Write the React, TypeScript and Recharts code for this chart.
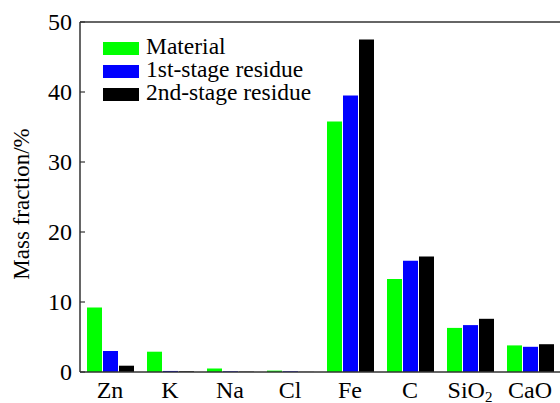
import React from "react";
import { BarChart, Bar, XAxis, YAxis, ReferenceLine, Legend } from "recharts";

const categories = ["Zn", "K", "Na", "Cl", "Fe", "C", "SiO2", "CaO"];
const material = [9.2, 2.9, 0.5, 0.2, 35.8, 13.3, 6.3, 3.8];
const firstStage = [3.0, 0.15, 0.1, 0.1, 39.5, 15.9, 6.7, 3.6];
const secondStage = [0.9, 0.1, 0.05, 0.02, 47.5, 16.5, 7.6, 3.97];
const yTicks = [0, 10, 20, 30, 40, 50];

const SERIES = [
  { key: "material", name: "Material", color: "#00FF00" },
  { key: "first", name: "1st-stage residue", color: "#0000FF" },
  { key: "second", name: "2nd-stage residue", color: "#000000" },
];

const data = categories.map((c, i) => ({
  name: c,
  material: material[i],
  first: firstStage[i],
  second: secondStage[i],
}));

const FONT = "'Liberation Serif', 'Times New Roman', serif";
const AXIS = "#333333";

const XTick = (props: any) => {
  const { x, y, payload } = props;
  const v: string = payload.value;
  const sub = v.match(/^(.*?)(\d+)$/);
  return (
    <text x={x} y={y + 26} textAnchor="middle" fontFamily={FONT} fontSize={24} fill="#000">
      {sub ? (
        <>
          <tspan>{sub[1]}</tspan>
          <tspan dy={4} fontSize={15}>{sub[2]}</tspan>
        </>
      ) : (
        v
      )}
    </text>
  );
};

const YTick = (props: any) => {
  const { x, y, payload } = props;
  return (
    <g>
      <line x1={x} x2={x + 5} y1={y} y2={y} stroke={AXIS} strokeWidth={1.2} />
      <text x={x - 8} y={y + 8} textAnchor="end" fontFamily={FONT} fontSize={24} fill="#000">
        {payload.value}
      </text>
    </g>
  );
};

const LegendBox = () => (
  <div style={{ fontFamily: FONT, fontSize: 23.5, color: "#000" }}>
    {SERIES.map((s) => (
      <div key={s.key} style={{ display: "flex", alignItems: "center", height: 23 }}>
        <div
          style={{
            width: 36,
            height: 13,
            background: s.color,
            marginRight: 7,
            position: "relative",
            top: 2,
          }}
        />
        <span style={{ lineHeight: "23px", whiteSpace: "nowrap" }}>{s.name}</span>
      </div>
    ))}
  </div>
);

export default function App() {
  return (
    <div style={{ position: "absolute", left: 0, top: 0, background: "#fff" }}>
      <BarChart
        width={560}
        height={403}
        data={data}
        margin={{ top: 22, right: 0, bottom: 0, left: 0 }}
        barSize={15}
        barGap={1}
      >
        <XAxis
          dataKey="name"
          height={31}
          tickLine={false}
          tickSize={0}
          tickMargin={0}
          interval={0}
          tick={<XTick />}
          axisLine={{ stroke: AXIS, strokeWidth: 1.5 }}
        />
        <YAxis
          width={80}
          domain={[0, 50]}
          ticks={yTicks}
          tickLine={false}
          tickSize={0}
          tickMargin={0}
          tick={<YTick />}
          axisLine={{ stroke: AXIS, strokeWidth: 1.5 }}
          label={{
            content: () => (
              <text
                x={29}
                y={204}
                transform="rotate(-90, 29, 204)"
                textAnchor="middle"
                fontFamily={FONT}
                fontSize={23}
                fill="#000"
              >
                Mass fraction/%
              </text>
            ),
          }}
        />
        <ReferenceLine y={50} stroke={AXIS} strokeWidth={1.5} ifOverflow="extendDomain" />
        <Legend
          layout="horizontal"
          verticalAlign="middle"
          align="center"
          wrapperStyle={{ left: 103, top: 35, width: "auto", height: "auto" }}
          content={<LegendBox />}
        />
        {SERIES.map((s) => (
          <Bar key={s.key} dataKey={s.key} name={s.name} fill={s.color} isAnimationActive={false} />
        ))}
      </BarChart>
    </div>
  );
}
